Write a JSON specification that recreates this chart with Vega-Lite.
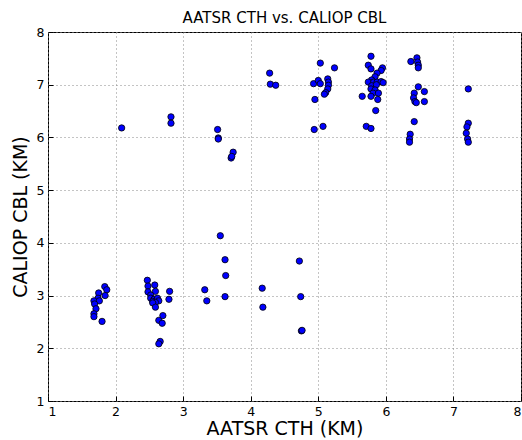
{
  "$schema": "https://vega.github.io/schema/vega-lite/v6.json",
  "width": 473,
  "height": 369,
  "autosize": "none",
  "padding": {"left": 48, "top": 32, "right": 1, "bottom": 39},
  "title": {"text": "AATSR CTH vs. CALIOP CBL", "font": "DejaVu Sans", "fontSize": 15, "fontWeight": "normal", "color": "#000", "offset": 0},
  "config": {
    "view": {"stroke": "#000", "strokeWidth": 1},
    "axis": {
      "labelFont": "DejaVu Sans", "titleFont": "DejaVu Sans", "labelFontSize": 12.5, "titleFontSize": 19,
      "titleFontWeight": "normal", "labelColor": "#000", "titleColor": "#000",
      "domain": false, "tickColor": "#000", "tickSize": -5, "labelPadding": 9,
      "grid": true, "gridColor": "#888", "gridDash": [1, 3], "gridWidth": 1
    }
  },
  "data": {"values": [
    {"cth": 1.84, "cbl": 3.17}, {"cth": 1.87, "cbl": 3.11}, {"cth": 1.75, "cbl": 3.05}, {"cth": 1.845, "cbl": 3.0},
    {"cth": 1.74, "cbl": 2.95}, {"cth": 1.68, "cbl": 2.9}, {"cth": 1.76, "cbl": 2.9}, {"cth": 1.69, "cbl": 2.84},
    {"cth": 1.71, "cbl": 2.75}, {"cth": 1.68, "cbl": 2.655}, {"cth": 1.68, "cbl": 2.6}, {"cth": 1.8, "cbl": 2.51},
    {"cth": 2.47, "cbl": 3.29}, {"cth": 2.48, "cbl": 3.18}, {"cth": 2.58, "cbl": 3.2}, {"cth": 2.48, "cbl": 3.07},
    {"cth": 2.59, "cbl": 3.08}, {"cth": 2.52, "cbl": 3.01}, {"cth": 2.52, "cbl": 2.95}, {"cth": 2.57, "cbl": 2.93},
    {"cth": 2.62, "cbl": 2.95}, {"cth": 2.64, "cbl": 2.9}, {"cth": 2.55, "cbl": 2.89}, {"cth": 2.59, "cbl": 2.87},
    {"cth": 2.55, "cbl": 2.86}, {"cth": 2.59, "cbl": 2.78}, {"cth": 2.8, "cbl": 3.08}, {"cth": 2.79, "cbl": 2.93},
    {"cth": 2.64, "cbl": 2.53}, {"cth": 2.69, "cbl": 2.475}, {"cth": 2.7, "cbl": 2.62}, {"cth": 2.66, "cbl": 2.13},
    {"cth": 2.64, "cbl": 2.085},
    {"cth": 3.32, "cbl": 3.11}, {"cth": 3.35, "cbl": 2.9}, {"cth": 3.55, "cbl": 4.135}, {"cth": 3.62, "cbl": 3.68},
    {"cth": 3.63, "cbl": 3.38}, {"cth": 3.62, "cbl": 2.98}, {"cth": 4.17, "cbl": 3.14}, {"cth": 4.18, "cbl": 2.78},
    {"cth": 4.72, "cbl": 3.655}, {"cth": 4.74, "cbl": 2.98}, {"cth": 4.75, "cbl": 2.33}, {"cth": 4.76, "cbl": 2.34},
    {"cth": 2.09, "cbl": 6.18}, {"cth": 2.82, "cbl": 6.39}, {"cth": 2.82, "cbl": 6.27}, {"cth": 3.51, "cbl": 6.15},
    {"cth": 3.52, "cbl": 5.99}, {"cth": 3.52, "cbl": 5.97}, {"cth": 3.74, "cbl": 5.72}, {"cth": 3.71, "cbl": 5.61},
    {"cth": 3.72, "cbl": 5.64}, {"cth": 4.94, "cbl": 6.15}, {"cth": 5.07, "cbl": 6.21},
    {"cth": 4.28, "cbl": 7.22}, {"cth": 4.29, "cbl": 7.01}, {"cth": 4.37, "cbl": 6.99},
    {"cth": 5.03, "cbl": 7.41}, {"cth": 5.24, "cbl": 7.32}, {"cth": 4.93, "cbl": 7.02}, {"cth": 5.0, "cbl": 7.08},
    {"cth": 5.03, "cbl": 7.02}, {"cth": 5.14, "cbl": 7.11}, {"cth": 5.15, "cbl": 7.05}, {"cth": 5.15, "cbl": 6.99},
    {"cth": 5.14, "cbl": 6.92}, {"cth": 5.11, "cbl": 6.85}, {"cth": 5.09, "cbl": 6.82}, {"cth": 4.95, "cbl": 6.72},
    {"cth": 5.78, "cbl": 7.54}, {"cth": 5.74, "cbl": 7.37}, {"cth": 5.78, "cbl": 7.3}, {"cth": 5.95, "cbl": 7.32},
    {"cth": 5.93, "cbl": 7.27}, {"cth": 5.87, "cbl": 7.22}, {"cth": 5.84, "cbl": 7.15}, {"cth": 5.79, "cbl": 7.09},
    {"cth": 5.74, "cbl": 7.05}, {"cth": 5.82, "cbl": 7.05}, {"cth": 5.87, "cbl": 7.05}, {"cth": 5.93, "cbl": 7.06},
    {"cth": 5.96, "cbl": 7.04}, {"cth": 5.79, "cbl": 6.98}, {"cth": 5.86, "cbl": 7.0}, {"cth": 5.78, "cbl": 6.92},
    {"cth": 5.84, "cbl": 6.9}, {"cth": 5.81, "cbl": 6.84}, {"cth": 5.89, "cbl": 6.84}, {"cth": 5.78, "cbl": 6.78},
    {"cth": 5.88, "cbl": 6.72}, {"cth": 5.65, "cbl": 6.78}, {"cth": 5.85, "cbl": 6.51}, {"cth": 5.71, "cbl": 6.21},
    {"cth": 5.78, "cbl": 6.17},
    {"cth": 6.37, "cbl": 7.44}, {"cth": 6.46, "cbl": 7.51}, {"cth": 6.47, "cbl": 7.43}, {"cth": 6.48, "cbl": 7.37},
    {"cth": 6.48, "cbl": 7.32}, {"cth": 6.48, "cbl": 6.96}, {"cth": 6.42, "cbl": 6.84}, {"cth": 6.57, "cbl": 6.87},
    {"cth": 6.41, "cbl": 6.75}, {"cth": 6.43, "cbl": 6.68}, {"cth": 6.45, "cbl": 6.66}, {"cth": 6.57, "cbl": 6.68},
    {"cth": 6.42, "cbl": 6.3}, {"cth": 6.36, "cbl": 6.06}, {"cth": 6.35, "cbl": 5.97}, {"cth": 6.35, "cbl": 5.91},
    {"cth": 7.22, "cbl": 6.92}, {"cth": 7.22, "cbl": 6.27}, {"cth": 7.2, "cbl": 6.2}, {"cth": 7.19, "cbl": 6.08},
    {"cth": 7.21, "cbl": 5.97}, {"cth": 7.22, "cbl": 5.91}
  ]},
  "mark": {"type": "point", "shape": "circle", "filled": true, "fill": "#0000ff", "stroke": "#000", "strokeWidth": 0.8, "size": 40, "opacity": 1},
  "encoding": {
    "x": {"field": "cth", "type": "quantitative", "title": "AATSR CTH (KM)",
          "scale": {"domain": [1, 8], "nice": false, "zero": false},
          "axis": {"values": [1, 2, 3, 4, 5, 6, 7, 8], "format": "d", "titlePadding": 2}},
    "y": {"field": "cbl", "type": "quantitative", "title": "CALIOP CBL (KM)",
          "scale": {"domain": [1, 8], "nice": false, "zero": false},
          "axis": {"values": [1, 2, 3, 4, 5, 6, 7, 8], "format": "d", "titlePadding": 6}}
  }
}
